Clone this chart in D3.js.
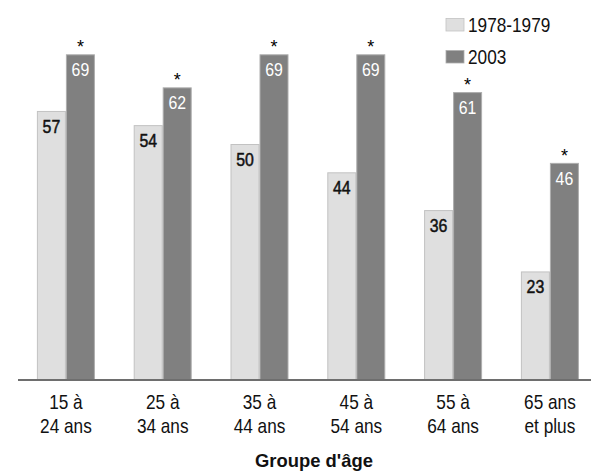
<!DOCTYPE html>
<html>
<head>
<meta charset="utf-8">
<script src="https://cdn.jsdelivr.net/npm/d3@7"></script>
<style>
  html, body { margin: 0; padding: 0; background: #fff; }
  svg { display: block; }
  text { font-family: "Liberation Sans", Arial, sans-serif; }
</style>
</head>
<body>
<svg id="chart" width="591" height="471"></svg>
<script>
// Age groups (two-line labels) and percentages for each period
const groups = ["15 à|24 ans", "25 à|34 ans", "35 à|44 ans", "45 à|54 ans", "55 à|64 ans", "65 ans|et plus"];
const seriesNames = ["1978-1979", "2003"];
const values1978 = [57, 54, 50, 44, 36, 23];
const values2003 = [69, 62, 69, 69, 61, 46];
const significant2003 = [true, true, true, true, true, true];
const axisTitle = "Groupe d'âge";

const fills = { "1978-1979": "#dfdfdf", "2003": "#808080" };
const strokes = { "1978-1979": "#c2c2c2", "2003": "#adadad" };
const labelColors = { "1978-1979": "#111", "2003": "#fff" };

// condensed lettering: a sans face squeezed horizontally
const at = (x, y, k = 0.82) => `translate(${x},${y}) scale(${k},1)`;

const svg = d3.select("#chart");
const baseY = 380;

const x0 = d3.scaleBand().domain(groups).range([17.5, 598.3]).paddingInner(0).paddingOuter(0);
const x1 = d3.scaleBand().domain(seriesNames).range([x0.bandwidth() / 2 - 29, x0.bandwidth() / 2 + 29]);
const y = d3.scaleLinear().domain([0, 80]).range([baseY, baseY - 4.72 * 80]);

const rows = groups.map((g, i) => ({
  group: g,
  bars: [
    { series: "1978-1979", value: values1978[i], star: false },
    { series: "2003", value: values2003[i], star: significant2003[i] }
  ]
}));

const gGroups = svg.append("g").selectAll("g")
  .data(rows).join("g")
  .attr("transform", d => `translate(${x0(d.group)},0)`);

gGroups.selectAll("rect")
  .data(d => d.bars).join("rect")
  .attr("x", d => x1(d.series) + 0.5)
  .attr("width", x1.bandwidth() - 1)
  .attr("y", d => y(d.value) + 0.5)
  .attr("height", d => baseY - y(d.value))
  .attr("fill", d => fills[d.series])
  .attr("stroke", d => strokes[d.series])
  .attr("stroke-width", 1);

// value labels inside the top of each bar
gGroups.selectAll("text.val")
  .data(d => d.bars).join("text")
  .attr("class", "val")
  .attr("transform", d => at(x1(d.series) + x1.bandwidth() / 2, y(d.value) + 22, 0.88))
  .attr("text-anchor", "middle")
  .attr("font-size", 18)
  .attr("fill", d => labelColors[d.series])
  .attr("stroke", d => d.series === "2003" ? "none" : "#111")
  .attr("stroke-width", 0.5)
  .text(d => d.value);

// significance markers above the 2003 bars
gGroups.selectAll("text.star")
  .data(d => d.bars.filter(b => b.star)).join("text")
  .attr("class", "star")
  .attr("transform", d => at(x1(d.series) + x1.bandwidth() / 2, y(d.value) - 1, 1))
  .attr("text-anchor", "middle")
  .attr("font-size", 18)
  .attr("fill", "#000")
  .text("*");

// baseline
svg.append("line")
  .attr("x1", 18).attr("x2", 591)
  .attr("y1", baseY).attr("y2", baseY)
  .attr("stroke", "#6e6e6e").attr("stroke-width", 2);

// category labels
const xAxis = d3.axisBottom(x0).tickSize(0).tickFormat(() => "");
const axisG = svg.append("g").attr("transform", `translate(0,${baseY})`).call(xAxis);
axisG.select(".domain").remove();
axisG.selectAll(".tick").each(function(d) {
  const lines = d.split("|");
  const t = d3.select(this).append("g").attr("transform", at(0, 0))
    .append("text")
    .attr("text-anchor", "middle")
    .attr("font-size", 21)
    .attr("fill", "#111");
  lines.forEach((line, k) => {
    t.append("tspan").attr("x", 0).attr("y", 29 + k * 24).text(line);
  });
});

svg.append("text")
  .attr("transform", at(314, 466.5, 0.97))
  .attr("text-anchor", "middle")
  .attr("font-size", 19)
  .attr("font-weight", "bold")
  .attr("fill", "#111")
  .text(axisTitle);

// legend
const legend = svg.append("g").selectAll("g")
  .data(seriesNames).join("g")
  .attr("transform", (d, i) => `translate(446,${18.5 + i * 32})`);
legend.append("rect")
  .attr("width", 18).attr("height", 12.5)
  .attr("fill", d => fills[d])
  .attr("stroke", d => strokes[d]).attr("stroke-width", 0.8);
legend.append("text")
  .attr("transform", at(22, 13.5))
  .attr("font-size", 21)
  .attr("fill", "#111")
  .text(d => d);
</script>
</body>
</html>
